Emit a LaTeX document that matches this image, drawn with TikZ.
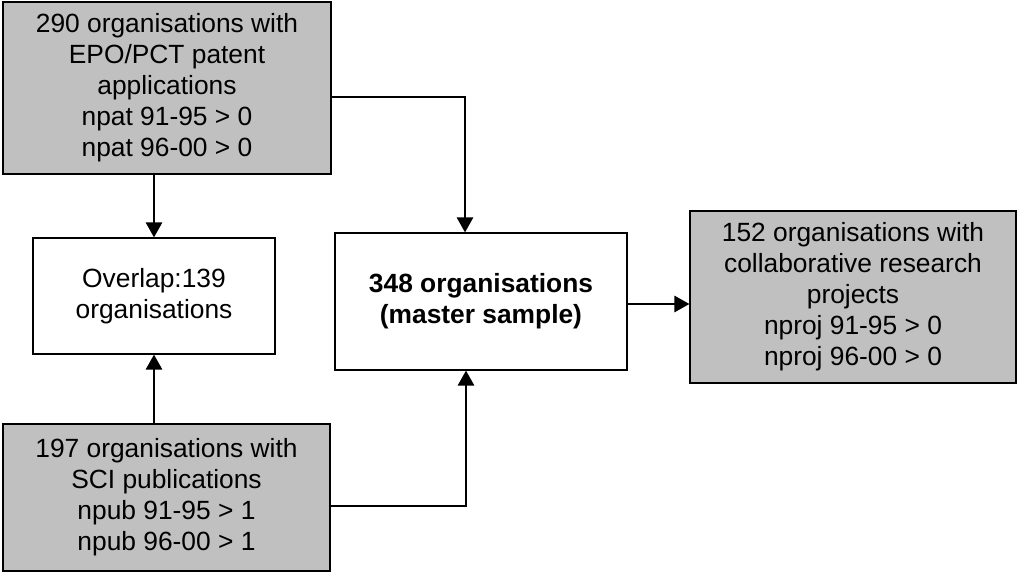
\documentclass[tikz,border=0pt]{standalone}
\usepackage{fontspec}
\setmainfont{Liberation Sans}
\usetikzlibrary{arrows.meta}
\definecolor{boxgrey}{RGB}{192,192,192}

\begin{document}
\begin{tikzpicture}[x=0.02cm,y=-0.02cm,line width=0.75pt,>={Triangle[length=0.3cm,width=0.33cm]},font=\fontsize{15}{17.6}\selectfont]
	\tikzstyle{every node}=[rectangle,draw=black,align=center,inner sep=2pt,line width=0.75pt]
	\tikzstyle{grey} =[fill=boxgrey]
	\tikzstyle{plain} =[fill=white]
	\useasboundingbox (0,0) rectangle (1017,573);

	\node (PAT)[grey,minimum width=6.56cm,minimum height=3.44cm] at (167,88) {290 organisations with\\EPO/PCT patent\\applications\\npat 91-95 > 0\\npat 96-00 > 0};
	\node (OVL)[plain,minimum width=4.84cm,minimum height=2.32cm] at (154,296) {Overlap:139\\organisations};
	\node (PUB)[grey,minimum width=6.54cm,minimum height=2.94cm] at (166.5,497.5) {197 organisations with\\SCI publications\\npub 91-95 > 1\\npub 96-00 > 1};
	\node (MASTER)[plain,minimum width=5.84cm,minimum height=2.74cm,font=\fontsize{15}{17.6}\selectfont\bfseries] at (481,301.5) {348 organisations\\(master sample)};
	\node (PROJ)[grey,minimum width=6.52cm,minimum height=3.44cm] at (853,297) {152 organisations with\\collaborative research\\projects\\nproj 91-95 > 0\\nproj 96-00 > 0};

	\draw[->] (PAT.south -| OVL.north) -- (OVL.north);
	\draw[->] (PUB.north -| OVL.south) -- (OVL.south);
	\draw[->] ([yshift=-0.18cm]PAT.east) -| ([xshift=-0.32cm]MASTER.north);
	\draw[->] ([yshift=-0.17cm]PUB.east) -| ([xshift=-0.3cm]MASTER.south);
	\draw[->] ([yshift=-0.05cm]MASTER.east) -- ([yshift=-0.05cm]MASTER.east -| PROJ.west);
\end{tikzpicture}
\end{document}
